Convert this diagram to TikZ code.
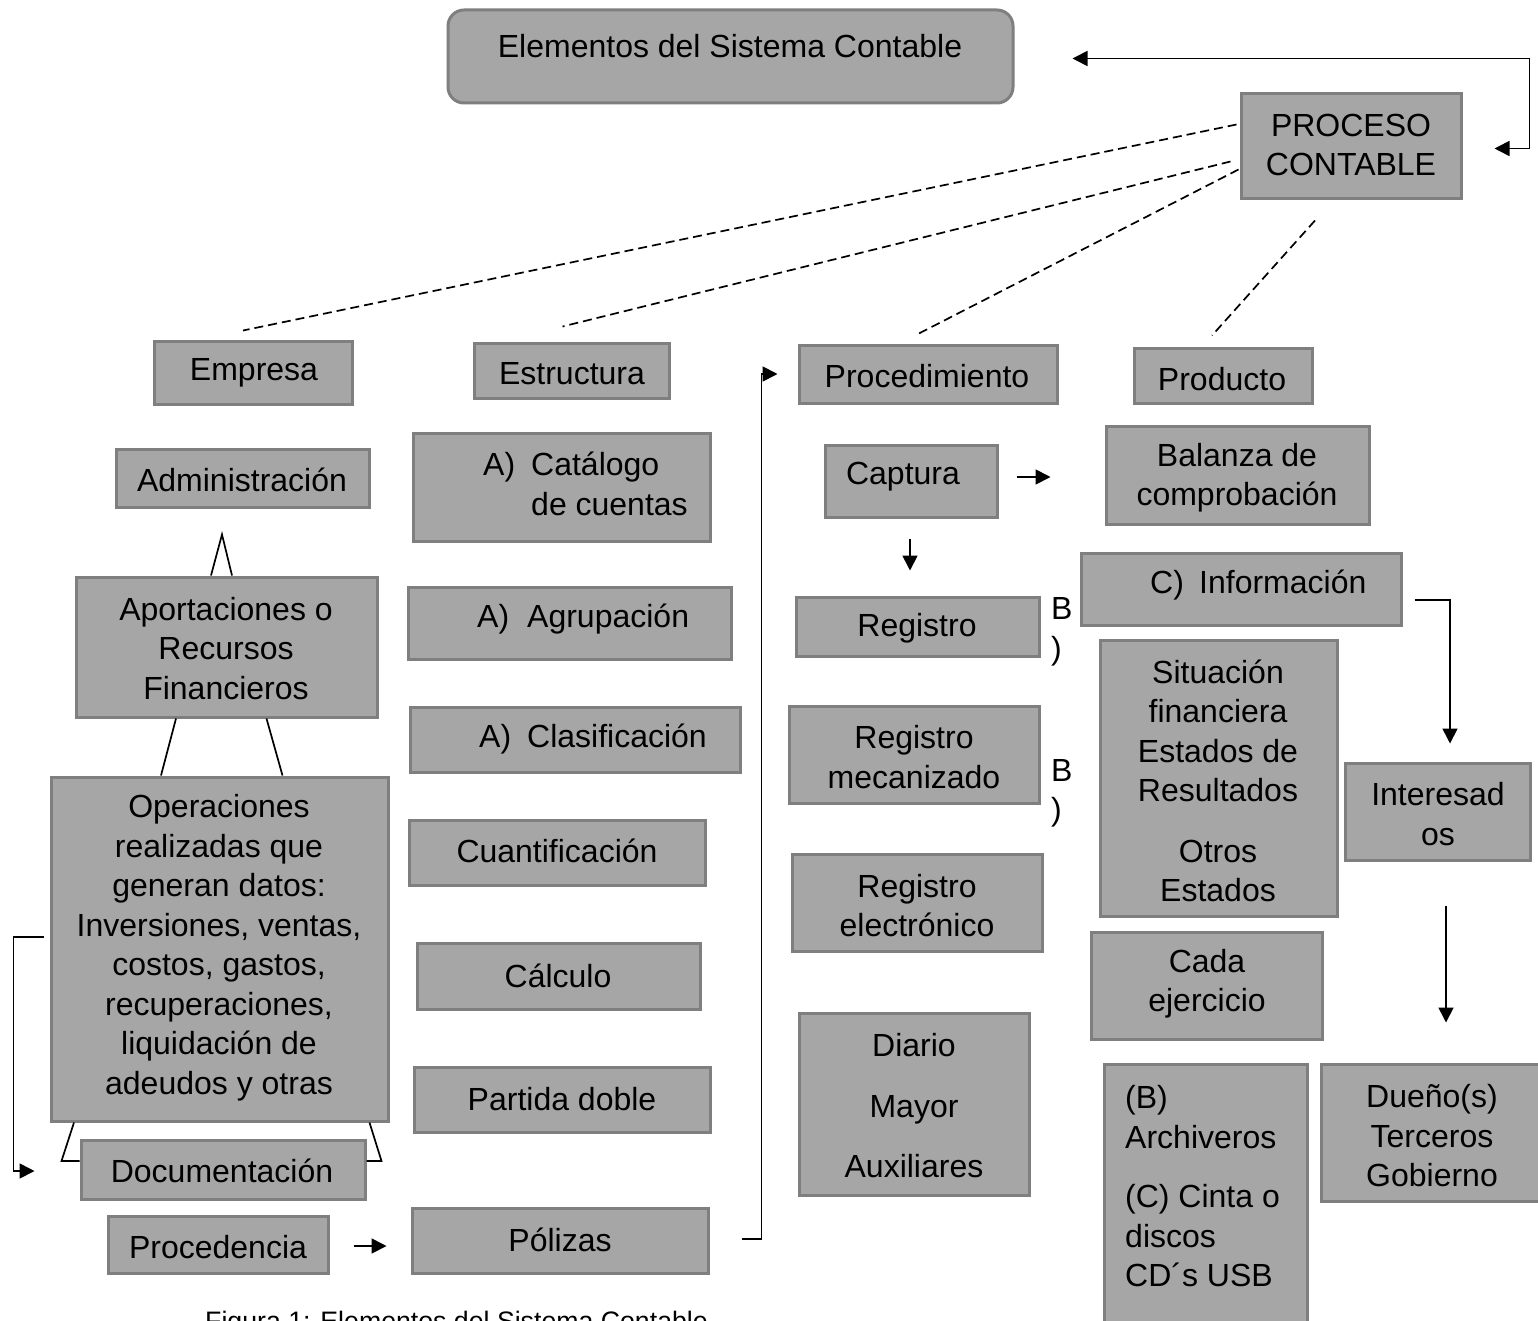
\documentclass[tikz,border=0pt]{standalone}
\usepackage{fontspec}
\setmainfont{Liberation Sans}
\usetikzlibrary{arrows.meta,calc}
\definecolor{boxfill}{HTML}{A6A6A6}
\definecolor{boxline}{HTML}{7F7F7F}
\tikzset{
  box/.style={draw=boxline, fill=boxfill, line width=3pt, rectangle, inner sep=0pt},
  txt/.style={inner sep=0pt, align=center, yshift=-1pt, font=\fontsize{32}{39.5}\selectfont},
  conn/.style={line width=1.7pt, draw=black},
  arr/.style={conn, -{Triangle[length=15pt,width=15pt]}},
  dline/.style={line width=1.7pt, dash pattern=on 9pt off 5pt},
}
\newcommand{\mybox}[8]{%
  \node[box, minimum width={#4-#2}, minimum height={#5-#3}] (#1) at ({(#2+#4)/2},{(#3+#5)/2}) {};
  \node[txt] (#1-t) at (#6,#7) {#8};}
\newcommand{\myboxL}[8]{%
  \node[box, minimum width={#4-#2}, minimum height={#5-#3}] (#1) at ({(#2+#4)/2},{(#3+#5)/2}) {};
  \node[txt, align=left, anchor=west] (#1-t) at (#6,#7) {#8};}
\begin{document}
\begin{tikzpicture}[x=1pt,y=-1pt]
\useasboundingbox (0,0) rectangle (1538,1321);
\clip (0,0) rectangle (1538,1321);
\fill[white] (0,0) rectangle (1538,1321);

% title
\node[box, rounded corners=16pt, minimum width=565, minimum height=93] (title) at (730.5,56.5) {};
\node[txt] (title-t) at (730,45) {Elementos del Sistema Contable};

\mybox{pc}{1241}{94}{1461}{199}{1351}{144}{PROCESO\\CONTABLE}
\mybox{emp}{154}{341}{352}{404}{254}{372}{Empresa}
\mybox{est}{474}{343}{669}{398}{572}{373}{Estructura}
\mybox{procd}{799}{345}{1057}{403}{927}{375}{Procedimiento}
\mybox{prod}{1134}{348}{1312}{403}{1222}{378}{Producto}

% column 1
\mybox{adm}{116}{449}{369}{507}{242}{479}{Administración}
\mybox{apor}{76}{577}{377}{717}{226}{647.5}{Aportaciones o\\Recursos\\Financieros}
\mybox{oper}{51}{777}{388}{1121}{219}{946.5}{Operaciones\\realizadas que\\generan datos:\\Inversiones, ventas,\\costos, gastos,\\recuperaciones,\\liquidación de\\adeudos y otras}
\mybox{doc}{81}{1140}{365}{1199}{222}{1170}{Documentación}
\mybox{proc}{108}{1216}{328}{1273}{218}{1246}{Procedencia}

% column 2
\myboxL{cat}{413}{433}{710}{541}{483}{483}{\makebox[48pt][l]{A)}Catálogo\\\hspace*{48pt}de cuentas}
\myboxL{agr}{408}{587}{731}{659}{477}{618}{\makebox[50pt][l]{A)}Agrupación}
\myboxL{cla}{410}{707}{740}{772}{479}{738}{\makebox[48pt][l]{A)}Clasificación}
\mybox{cua}{409}{820}{705}{885}{557}{850}{Cuantificación}
\mybox{clc}{417}{943}{700}{1009}{558}{975}{Cálculo}
\mybox{pd}{414}{1067}{710}{1132}{562}{1098}{Partida doble}
\mybox{pol}{412}{1208}{708}{1273}{560}{1239}{Pólizas}

% column 3
\mybox{capt}{825}{445}{997}{517}{903}{476}{Captura}
\mybox{reg}{796}{597}{1039}{656}{917}{627}{Registro}
\mybox{regm}{789}{706}{1039}{803}{914}{756}{Registro\\mecanizado}
\mybox{rege}{792}{854}{1042}{951}{917}{904.5}{Registro\\electrónico}
\mybox{dia}{799}{1013}{1029}{1195}{914}{1105}{Diario\\[21pt]Mayor\\[21pt]Auxiliares}
\node[txt, align=left, anchor=west] (b1) at (1051,631) {B\\)};
\node[txt, align=left, anchor=west] (b2) at (1051,792.5) {B\\)};

% column 4/5
\mybox{bal}{1106}{426}{1369}{524}{1237}{476.5}{Balanza de\\comprobación}
\myboxL{inf}{1081}{553}{1401}{625}{1150}{584}{\makebox[49pt][l]{C)}Información}
\mybox{sit}{1100}{640}{1337}{916}{1218}{780}{Situación\\financiera\\Estados de\\Resultados\\[21pt]Otros\\Estados}
\mybox{int}{1345}{763}{1530}{860}{1438}{813}{Interesad\\os}
\mybox{cada}{1091}{932}{1322}{1039}{1207}{982.5}{Cada\\ejercicio}
\myboxL{arc}{1104}{1064}{1307}{1340}{1125}{1185.5}{(B)\\Archiveros\\[20pt](C) Cinta o\\discos\\CD´s USB}
\mybox{due}{1321}{1064}{1545}{1201}{1432}{1135}{Dueño(s)\\Terceros\\Gobierno}

% caption (cut off by the lower edge, as in the reference)
\node[anchor=base west, inner sep=0pt, font=\fontsize{26.7}{32}\selectfont] (caption) at (205,1330) {Figura 1: Elementos del Sistema Contable};

% feedback arrow
\draw[conn, {Triangle[length=15pt,width=15pt]}-{Triangle[length=15pt,width=15pt]}]
  ($(pc.east)+(32,2)$) -- ++(35,0) |- ($(title.east)+(58,2)$);

% dashed lines
\draw[dline] ($(pc.west)+(-3,-22)$) -- ($(emp.north)+(-10,-9)$);
\draw[dline] ($(pc.west)+(-9,15)$) -- ($(est.north)+(-9,-15)$);
\draw[dline] ($(pc.west)+(-1,23)$) -- ($(procd.north)+(-13,-8)$);
\draw[dline] ($(pc.south)+(-36,20)$) -- ($(prod.north)+(-11,-11)$);

% column 1 linking lines
\draw[conn] ($(apor.north)+(-15.5,0)$) -- ($(adm.south)+(-20.5,26)$) -- ($(apor.north)+(5.5,0)$);
\draw[conn] ($(apor.south)+(-50.5,0)$) -- ($(oper.north)+(-58.5,0)$);
\draw[conn] ($(apor.south)+(40,0)$) -- ($(oper.north)+(63,0)$);
\draw[conn] ($(oper.south)+(-145.5,0)$) -- ($(doc.west)+(-18,-8.5)$) -- ($(doc.west)+(0,-8.5)$);
\draw[conn] ($(oper.south)+(150,0)$) -- ($(doc.east)+(15,-8.5)$) -- ($(doc.east)+(0,-8.5)$);
\draw[arr] ($(oper.west)+(-6,-12)$) -- ++(-30,0) |- ($(doc.west)+(-45,1.5)$);
\draw[arr] ($(proc.east)+(24,1.5)$) -- ($(pol.west)+(-24,5.5)$);

% column 2 -> 3
\draw[arr] ($(pol.east)+(32,-1.5)$) -- ++(20,0) |- ($(procd.west)+(-20,0)$);

% column 3
\draw[arr] ($(capt.east)+(18,-4)$) -- ($(bal.west)+(-54,2)$);
\draw[arr] ($(capt.south)+(-1,20)$) -- ($(reg.north)+(-7.5,-25)$);

% information flow
\draw[arr] ($(inf.east)+(12,11)$) -| ($(int.north)+(12.5,-18)$);
\draw[arr] ($(int.south)+(8.5,44)$) -- ($(due.north)+(13,-40)$);
\end{tikzpicture}
\end{document}
